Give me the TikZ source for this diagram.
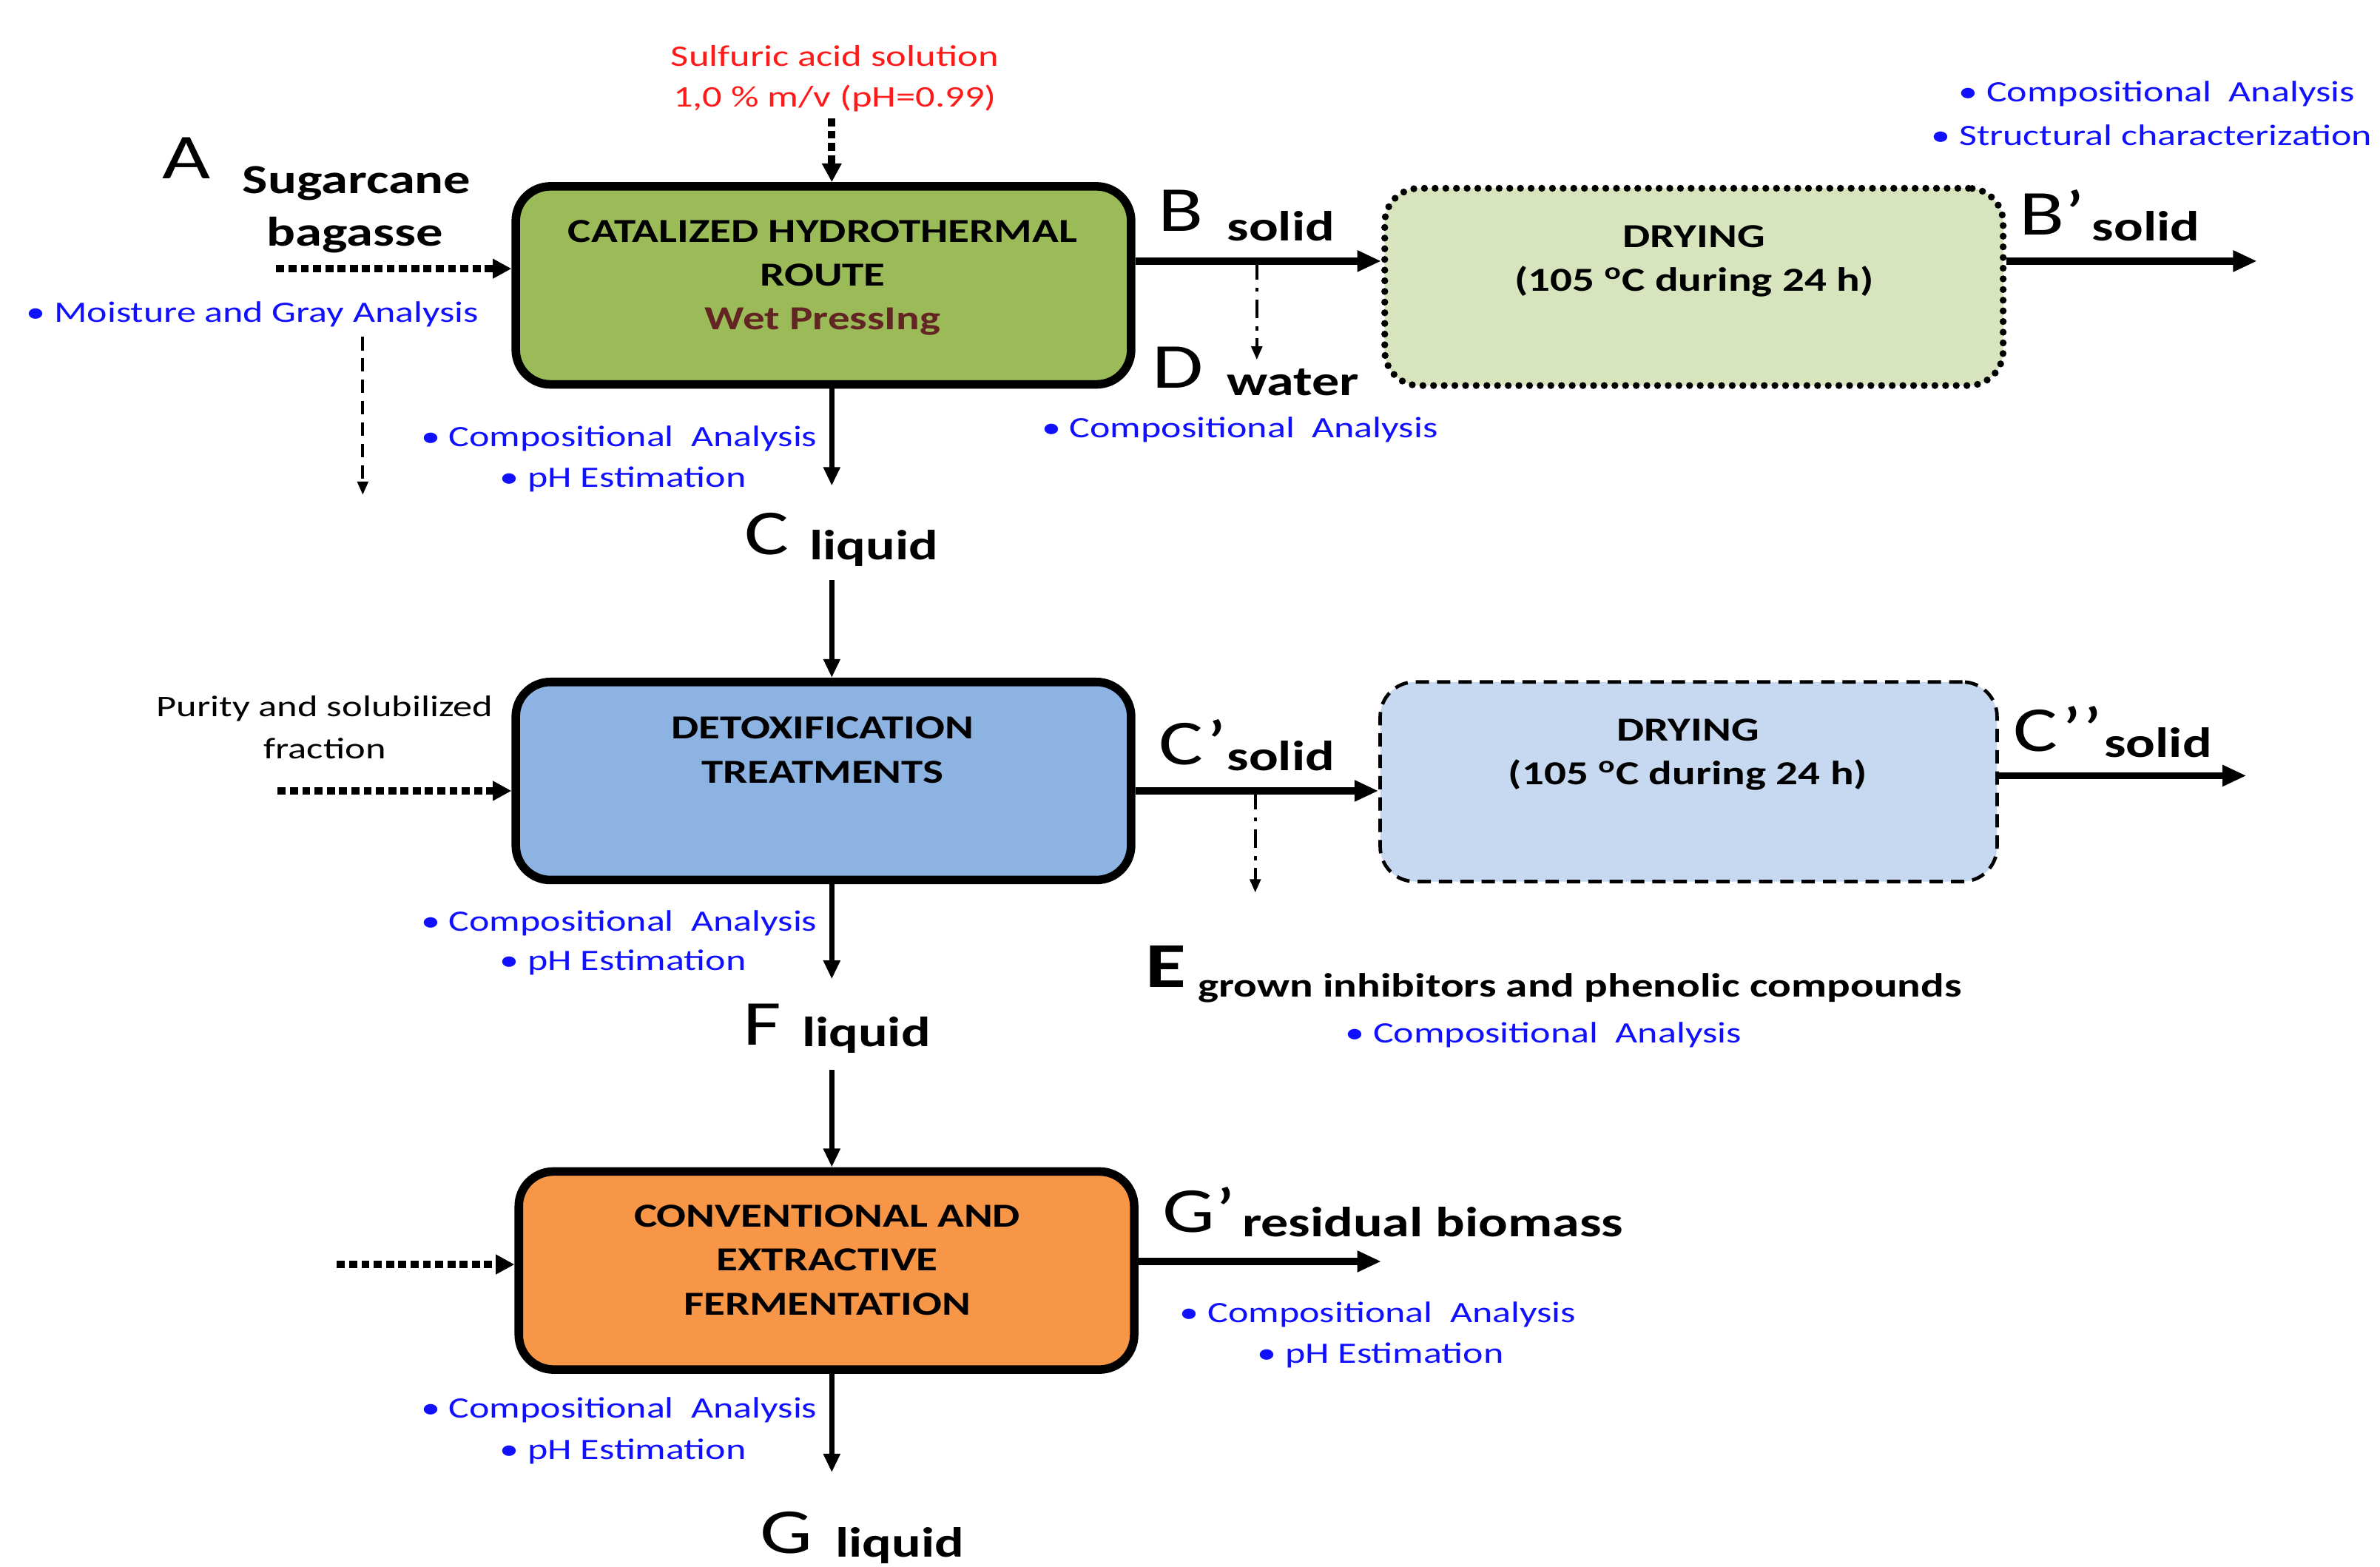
\documentclass[tikz,border=0pt]{standalone}
\usepackage{fontspec}
\setmainfont{Carlito}[FakeStretch=1.3]
\usetikzlibrary{arrows.meta}
\definecolor{gbox}{HTML}{9BBB59}
\definecolor{bbox}{HTML}{8DB3E2}
\definecolor{obox}{HTML}{F79646}
\definecolor{lgbox}{HTML}{D7E4BD}
\definecolor{lbbox}{HTML}{C6D9F1}
\definecolor{bluet}{HTML}{1010FF}
\definecolor{redt}{HTML}{FF1A1A}
\definecolor{brownt}{HTML}{632523}
\newcommand{\fs}[2]{\fontsize{#1}{#2}\selectfont}
\tikzset{
  proc/.style={draw=black, line width=3.2pt, rounded corners=13pt, inner sep=0pt, minimum width=8.11cm, minimum height=2.61cm},
  dryA/.style={draw=black, fill=lgbox, line width=2.6pt, dash pattern=on 0pt off 4pt, line cap=round, rounded corners=13pt, inner sep=0pt, minimum width=8.15cm, minimum height=2.6cm},
  dryB/.style={draw=black, fill=lbbox, line width=1.3pt, dash pattern=on 5pt off 3pt, rounded corners=13pt, inner sep=0pt, minimum width=8.13cm, minimum height=2.63cm},
  boxtxt/.style={font=\fs{12.6pt}{16.5pt}\bfseries, align=center, inner sep=0pt},
  bluetxt/.style={text=bluet, font=\fs{11.1pt}{13pt}, inner sep=0pt, anchor=west},
  redtxt/.style={text=redt, font=\fs{11.2pt}{13pt}, inner sep=0pt},
  plain/.style={font=\fs{11.2pt}{13pt}, inner sep=0pt},
  big/.style={font=\fs{24pt}{26pt}, inner sep=0pt},
  sub/.style={font=\fs{15.8pt}{17pt}\bfseries, inner sep=0pt, anchor=west},
  flow/.style={line width=1.8pt, -{Triangle[length=7pt,width=6pt]}},
  flowthick/.style={line width=2.6pt, -{Triangle[length=9pt,width=7.5pt]}},
  dotin/.style={line width=2.8pt, dash pattern=on 3pt off 1.6pt, -{Triangle[length=7pt,width=7pt]}},
  thindash/.style={line width=1.1pt, dash pattern=on 5pt off 3pt, -{Triangle[length=5pt,width=4pt]}},
  dashdot/.style={line width=1.1pt, dash pattern=on 7pt off 3pt on 1.5pt off 3pt, -{Triangle[length=5pt,width=4pt]}}
}
\begin{document}
\begin{tikzpicture}[x=0.02cm, y=-0.02cm]
\useasboundingbox (0,0) rectangle (1568,1032);
% boxes
\node[proc, fill=gbox] (box1) at (542.5,188) {};
\node[proc, fill=bbox] (box2) at (542.5,514.5) {};
\node[proc, fill=obox] (box3) at (544.5,837) {};
\node[dryA] (dry1) at (1116,189) {};
\node[dryB] (dry2) at (1112.5,515) {};
% box texts
\node[boxtxt] (t1) at (542,183) {CATALIZED HYDROTHERMAL\\ROUTE\\\textcolor{brownt}{Wet PressIng}};
\node[boxtxt] (t2) at (542,494) {DETOXIFICATION\\TREATMENTS};
\node[boxtxt] (t3) at (545,830) {CONVENTIONAL AND\\EXTRACTIVE\\FERMENTATION};
\node[boxtxt] (t4) at (1116,172) {DRYING\\(105 \textsuperscript{o}C during 24 h)};
\node[boxtxt] (t5) at (1112,497) {DRYING\\(105 \textsuperscript{o}C during 24 h)};
% top inputs
\node[redtxt] (sulf1) at (550,37) {Sulfuric acid solution};
\node[redtxt] (sulf2) at (550,65) {1,0 \% m/v (pH=0.99)};
\coordinate (s0) at (548,78);
\draw[dotin] (s0) -- (s0 |- box1.north);
\node[big] (lA) at (123,104) {A};
\node[font=\fs{15.5pt}{17pt}\bfseries, inner sep=0pt] (sug1) at (235,121) {Sugarcane};
\node[font=\fs{15.5pt}{17pt}\bfseries, inner sep=0pt] (sug2) at (234,155) {bagasse};
\coordinate (a0) at (182,177);
\draw[dotin] (a0) -- (a0 -| box1.west);
\node[bluetxt] (moist) at (17,207) {• Moisture and Gray Analysis};
\coordinate (m0) at (239,222);
\coordinate (m1) at (239,326);
\draw[thindash] (m0) -- (m1);
% box1 down
\coordinate (c1) at (548,320);
\draw[flow] (c1 |- box1.south) -- (c1);
\node[bluetxt] (ca1) at (277,289) {• Compositional\ \ Analysis};
\node[bluetxt] (ph1) at (329,316) {• pH Estimation};
\node[big] (lC) at (505,352) {C};
\node[sub] (liqC) at (533,361) {liquid};
\coordinate (c2) at (548,382);
\draw[flow] (c2) -- (c2 |- box2.north);
% box2 left
\node[plain] (pur1) at (214,467) {Purity and solubilized};
\node[plain] (pur2) at (214,493) {fraction};
\coordinate (p0) at (183,521);
\draw[dotin] (p0) -- (p0 -| box2.west);
% box2 down
\coordinate (f1) at (548,645);
\draw[flow] (f1 |- box2.south) -- (f1);
\node[bluetxt] (ca2) at (277,608) {• Compositional\ \ Analysis};
\node[bluetxt] (ph2) at (329,634) {• pH Estimation};
\node[big] (lF) at (502,675) {F};
\node[sub] (liqF) at (528,682) {liquid};
\coordinate (f2) at (548,705);
\draw[flow] (f2) -- (f2 |- box3.north);
% box3 left
\coordinate (q0) at (222,833);
\draw[dotin] (q0) -- (q0 -| box3.west);
% box3 down
\coordinate (g1) at (548,970);
\draw[flow] (g1 |- box3.south) -- (g1);
\node[bluetxt] (ca3) at (277,929) {• Compositional\ \ Analysis};
\node[bluetxt] (ph3) at (329,956) {• pH Estimation};
\node[big] (lG) at (518,1010) {G};
\node[sub] (liqG) at (550,1018) {liquid};
% box3 right
\coordinate (gr) at (910,831);
\draw[flowthick] (box3.east |- gr) -- (gr);
\node[big] (lGp) at (790,797) {G’};
\node[sub] (resid) at (818,805) {residual biomass};
\node[bluetxt] (ca4) at (777,866) {• Compositional\ \ Analysis};
\node[bluetxt] (ph4) at (828,893) {• pH Estimation};
% box1 right
\coordinate (yB) at (828,172);
\draw[flowthick] (box1.east |- yB) -- (dry1.west |- yB);
\coordinate (d1) at (828,237);
\draw[dashdot] (yB) -- (d1);
\node[big] (lB) at (778,139) {B};
\node[sub] (solB) at (808,149) {solid};
\node[big] (lD) at (776,242) {D};
\node[sub] (watD) at (808,252) {water};
\node[bluetxt] (ca5) at (686,283) {• Compositional\ \ Analysis};
% dry1 right
\coordinate (br) at (1487,172);
\draw[flowthick] (dry1.east |- br) -- (br);
\node[big] (lBp) at (1352,140) {B’};
\node[sub] (solBp) at (1378,149) {solid};
\node[bluetxt] (ca6) at (1290,62) {• Compositional\ \ Analysis};
\node[bluetxt] (sc6) at (1272,89) {• Structural characterization};
% box2 right
\coordinate (yC) at (827,521);
\draw[flowthick] (box2.east |- yC) -- (dry2.west |- yC);
\coordinate (e1) at (827,588);
\draw[dashdot] (yC) -- (e1);
\node[big] (lCp) at (786,489) {C’};
\node[sub] (solCp) at (808,498) {solid};
\node[font=\fs{24pt}{26pt}\bfseries, inner sep=0pt] (lE) at (768,637) {E};
\node[font=\fs{12.6pt}{14pt}\bfseries, inner sep=0pt, anchor=west] (inh) at (789,651) {grown inhibitors and phenolic compounds};
\node[bluetxt] (ca7) at (886,682) {• Compositional\ \ Analysis};
% dry2 right
\coordinate (cr) at (1480,511);
\draw[flowthick] (dry2.east |- cr) -- (cr);
\node[big] (lCpp) at (1356,480) {C’’};
\node[sub] (solCpp) at (1386,489) {solid};
\end{tikzpicture}
\end{document}
